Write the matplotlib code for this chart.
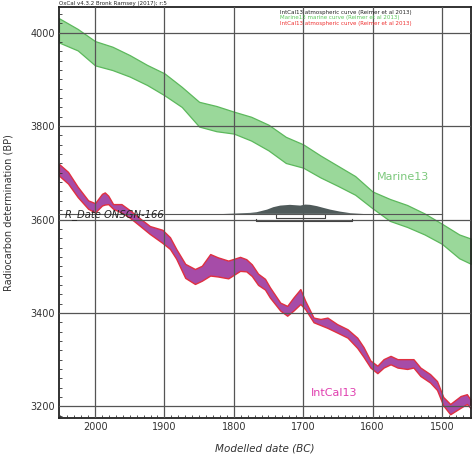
import numpy as np
from matplotlib import pyplot as plt
from matplotlib.ticker import MultipleLocator

# Marine13 band (calendar BC, upper / lower radiocarbon BP)
marine_bc = [2052, 2025, 2000, 1975, 1950, 1925, 1900, 1875, 1850, 1825, 1800,
             1775, 1750, 1725, 1700, 1675, 1650, 1625, 1600, 1575, 1550, 1525,
             1500, 1475, 1458]
marine_hi = [4031, 4008, 3982, 3970, 3952, 3931, 3913, 3884, 3852, 3843, 3831,
             3820, 3803, 3777, 3761, 3737, 3715, 3693, 3660, 3644, 3631, 3613,
             3591, 3568, 3559]
marine_lo = [3979, 3962, 3930, 3920, 3906, 3888, 3866, 3841, 3799, 3789, 3784,
             3769, 3748, 3721, 3711, 3690, 3672, 3653, 3624, 3597, 3584, 3568,
             3548, 3517, 3505]

# IntCal13 band
intcal_bc = [2052, 2039, 2025, 2010, 2000, 1990, 1986, 1981, 1974, 1962, 1950,
             1935, 1921, 1903, 1892, 1883, 1870, 1856, 1846, 1834, 1823, 1808,
             1791, 1782, 1774, 1765, 1755, 1748, 1733, 1723, 1714, 1704, 1697,
             1685, 1675, 1665, 1651, 1636, 1622, 1613, 1603, 1593, 1584, 1574,
             1564, 1550, 1541, 1531, 1517, 1507, 1498, 1488, 1473, 1464, 1459]
intcal_hi = [3719, 3702, 3670, 3641, 3635, 3655, 3658, 3651, 3633, 3633, 3620,
             3602, 3586, 3578, 3562, 3537, 3505, 3494, 3501, 3526, 3519, 3512,
             3520, 3515, 3504, 3484, 3473, 3455, 3422, 3415, 3433, 3451, 3426,
             3390, 3387, 3390, 3376, 3365, 3347, 3327, 3298, 3287, 3301, 3308,
             3301, 3301, 3301, 3283, 3269, 3254, 3220, 3205, 3222, 3226, 3215]
intcal_lo = [3694, 3677, 3648, 3623, 3615, 3630, 3632, 3633, 3623, 3615, 3604,
             3586, 3569, 3550, 3537, 3516, 3475, 3462, 3469, 3480, 3478, 3474,
             3490, 3489, 3479, 3460, 3450, 3433, 3405, 3394, 3405, 3419, 3408,
             3380, 3374, 3368, 3358, 3347, 3325, 3306, 3283, 3271, 3283, 3290,
             3283, 3280, 3283, 3265, 3251, 3235, 3202, 3183, 3197, 3205, 3197]

# R_Date ONSGN-166 calibrated distribution
rdate_bp = 3612
rdate_bc = [1815, 1776, 1767, 1752, 1743, 1733, 1719, 1704, 1697, 1690, 1680,
            1671, 1661, 1647, 1632, 1613]
rdate_p = [0, 0.11, 0.18, 0.46, 0.72, 0.89, 0.97, 0.89, 1.0, 0.97, 0.83,
           0.65, 0.46, 0.25, 0.08, 0]
range_1s = (1739, 1669)
range_2s = (1768, 1629)

fig = plt.figure(figsize=(4.75, 4.55), dpi=100)
ax = fig.add_axes([59/475, 1-418/455, 412/475, 411/455])

ax.fill_between(marine_bc, marine_lo, marine_hi, facecolor='#9ad89a',
                edgecolor='#5cb85c', linewidth=0.9, zorder=1)
ax.fill_between(intcal_bc, intcal_lo, intcal_hi, facecolor='#a64ca8',
                edgecolor='#e03040', linewidth=1.0, zorder=1.5)

# date line + distribution
ax.plot([2052, 1500], [rdate_bp, rdate_bp], color='#555555', lw=0.8, zorder=4)
ax.fill_between(rdate_bc, rdate_bp, rdate_bp + np.array(rdate_p) * 20,
                facecolor='#4f5a5a', edgecolor='none', zorder=4)
for (a, b), yb in [(range_1s, rdate_bp - 9), (range_2s, rdate_bp - 16)]:
    ax.plot([a, a, b, b], [yb + 6, yb, yb, yb + 6], color='#444444', lw=0.8, zorder=4)
ax.text(2044, rdate_bp - 7, 'R_Date ONSGN-166', fontsize=7.2, style='italic',
        color='#222222', zorder=5)

ax.text(1593, 3692, 'Marine13', fontsize=8, color='#7cc87c', va='center', zorder=5)
ax.text(1689, 3229, 'IntCal13', fontsize=8, color='#e040b0', va='center', zorder=5)

ax.set_xlim(2052, 1458)
ax.set_ylim(3175, 4055)
ax.xaxis.set_major_locator(MultipleLocator(100))
ax.xaxis.set_minor_locator(MultipleLocator(10))
ax.yaxis.set_major_locator(MultipleLocator(200))
ax.yaxis.set_minor_locator(MultipleLocator(20))
ax.set_axisbelow(False)
ax.grid(True, which='major', color='#555555', lw=0.9)
ax.tick_params(which='both', direction='in', labelsize=7, labelcolor='#333333',
               color='#333333', pad=3)
ax.tick_params(which='major', length=0)
ax.tick_params(which='minor', length=2.5, width=0.6)
for s in ax.spines.values():
    s.set_linewidth(1.3)
    s.set_color('#222222')

ax.set_xlabel('Modelled date (BC)', fontsize=7.5, style='italic', color='#333333', labelpad=8)
ax.set_ylabel('Radiocarbon determination (BP)', fontsize=7, color='#333333')
ax.yaxis.set_label_coords(-0.11, 0.5)

fig.text(59/475, 1-3/455, 'OxCal v4.3.2 Bronk Ramsey (2017); r:5', fontsize=4,
         color='#222222', va='center', ha='left')
leg = [('IntCal13 atmospheric curve (Reimer et al 2013)', '#222222'),
       ('Marine13 marine curve (Reimer et al 2013)', '#5cc85c'),
       ('IntCal13 atmospheric curve (Reimer et al 2013)', '#ee3030')]
for i, (t, c) in enumerate(leg):
    fig.text(280/475, 1-(12.3 + 5.5*i)/455, t, fontsize=4, color=c, va='center', ha='left')

plt.savefig('out.png', dpi=100)
